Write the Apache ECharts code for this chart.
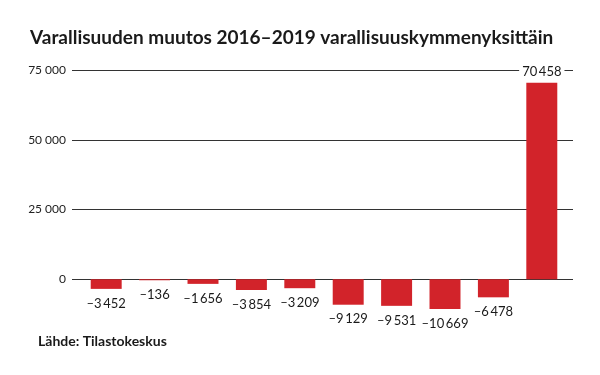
<!DOCTYPE html>
<html><head><meta charset="utf-8">
<script src="https://cdn.jsdelivr.net/npm/echarts@6/dist/echarts.min.js"></script>
<style>html,body{margin:0;padding:0;background:#fff}#c{width:600px;height:375px}</style>
</head><body><div id="c"></div>
<script>
const categories = ['1','2','3','4','5','6','7','8','9','10'];
const values = [-3452, -136, -1656, -3854, -3209, -9129, -9531, -10669, -6478, 70458];
const yTicks = [0, 25000, 50000, 75000];
const titleText = 'Varallisuuden muutos 2016–2019 varallisuuskymmenyksittäin';
const sourceText = 'Lähde: Tilastokeskus';

function fmt(v, sep){
  const s = Math.abs(v).toString();
  const g = s.length > 3 ? s.slice(0, s.length-3) + sep + s.slice(-3) : s;
  return (v < 0 ? '–' : '') + g;
}
const FONT = 'Lato';
const chart = echarts.init(document.getElementById('c'), null, {renderer:'canvas'});
chart.setOption({
  animation:false,
  backgroundColor:'#fff',
  textStyle:{fontFamily:FONT},
  title:[
    {text:titleText, left:25, top:23, textStyle:{fontFamily:FONT, fontSize:19, fontWeight:'bold', color:'#1a1a1a'}},
    {text:sourceText, left:33, top:329, textStyle:{fontFamily:FONT, fontSize:14, fontWeight:'bold', color:'#1a1a1a'}}
  ],
  grid:[
    {left:72, right:27, top:70, bottom:26},
    {left:82, right:34, top:70, bottom:26}
  ],
  xAxis:[
    {type:'category', gridIndex:0, data:[''], show:false},
    {type:'category', gridIndex:1, data:categories, show:false}
  ],
  yAxis:[
    {type:'value', gridIndex:0, min:-25000, max:75000, interval:25000,
     axisLine:{show:false}, axisTick:{show:false},
     axisLabel:{margin:6, fontSize:12, color:'#222', fontFamily:FONT,
       formatter:v => yTicks.indexOf(v) >= 0 ? fmt(v, '\u00a0') : ''},
     splitLine:{show:true, lineStyle:{width:1, color:['rgba(0,0,0,0)','#333','#333','#333','#333']}}},
    {type:'value', gridIndex:1, min:-25000, max:75000, interval:25000, show:false}
  ],
  series:[{
    type:'bar', xAxisIndex:1, yAxisIndex:1,
    barWidth:'64%',
    barMinHeight:1,
    itemStyle:{color:'#d2232a'},
    data: values.map(v => ({value:v, label:{position: v < 0 ? 'bottom' : 'top', distance: v < 0 ? 8 : 4}})),
    label:{show:true, fontSize:13, color:'#1a1a1a', fontFamily:FONT,
      backgroundColor:'#fff', padding:[0,3],
      formatter:p => fmt(p.value, '\u2009')}
  }]
});
</script></body></html>
